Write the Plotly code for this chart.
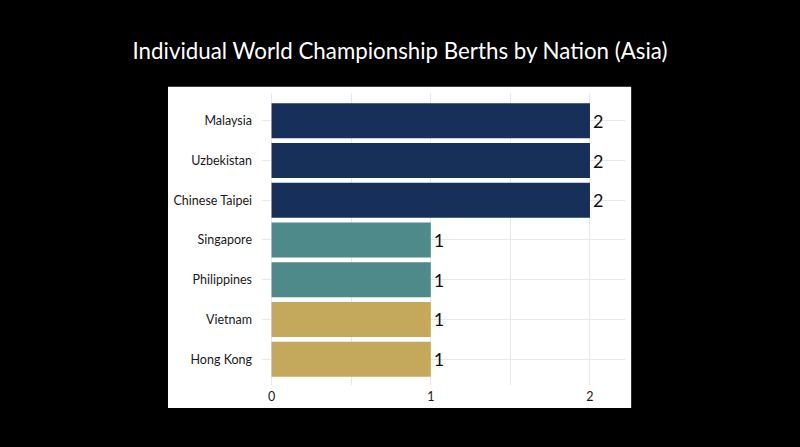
import plotly.graph_objects as go

nations = ["Malaysia", "Uzbekistan", "Chinese Taipei", "Singapore",
           "Philippines", "Vietnam", "Hong Kong"]
berths = [2, 2, 2, 1, 1, 1, 1]
bar_colors = ["#16305a", "#16305a", "#16305a", "#4f8a8b",
              "#4f8a8b", "#c4a85c", "#c4a85c"]

FONT = "Lato"

fig = go.Figure()
fig.add_trace(go.Bar(
    x=berths, y=nations, orientation="h",
    marker=dict(color=bar_colors, line=dict(width=0)),
    text=berths, textposition="outside", cliponaxis=False,
    textfont=dict(size=18, color="#111111", family=FONT),
    width=0.88,
))

# white panel behind the plot
fig.add_shape(type="rect", xref="paper", yref="paper",
              x0=-0.259, x1=1.017, y0=-0.079, y1=1.021,
              fillcolor="white", line=dict(width=0), layer="below")

fig.update_layout(
    width=800, height=447,
    paper_bgcolor="black", plot_bgcolor="white",
    margin=dict(l=262, r=175, t=93, b=62),
    title=dict(text="Individual World Championship Berths by Nation (Asia)",
               x=0.5, xref="container", xanchor="center",
               y=0.885, yanchor="middle",
               font=dict(size=22.3, color="white", family=FONT)),
    font=dict(family=FONT, size=12, color="#1a1a1a"),
    showlegend=False,
)
fig.update_xaxes(range=[-0.06, 2.22], tickvals=[0, 1, 2], showgrid=True,
                 gridcolor="#e8e8e8", gridwidth=1, zeroline=False,
                 minor=dict(dtick=0.5, showgrid=True, gridcolor="#e8e8e8"),
                 ticks="", ticklabelstandoff=2, tickfont=dict(size=12.5))
fig.update_yaxes(range=[6.65, -0.7], showgrid=True, gridcolor="#e8e8e8",
                 ticks="", ticklabelstandoff=9, tickfont=dict(size=12.5))

fig.write_html("out.html", config={"displayModeBar": False},
               post_script="document.body.style.margin='0';"
                           "document.body.style.background='black';")
